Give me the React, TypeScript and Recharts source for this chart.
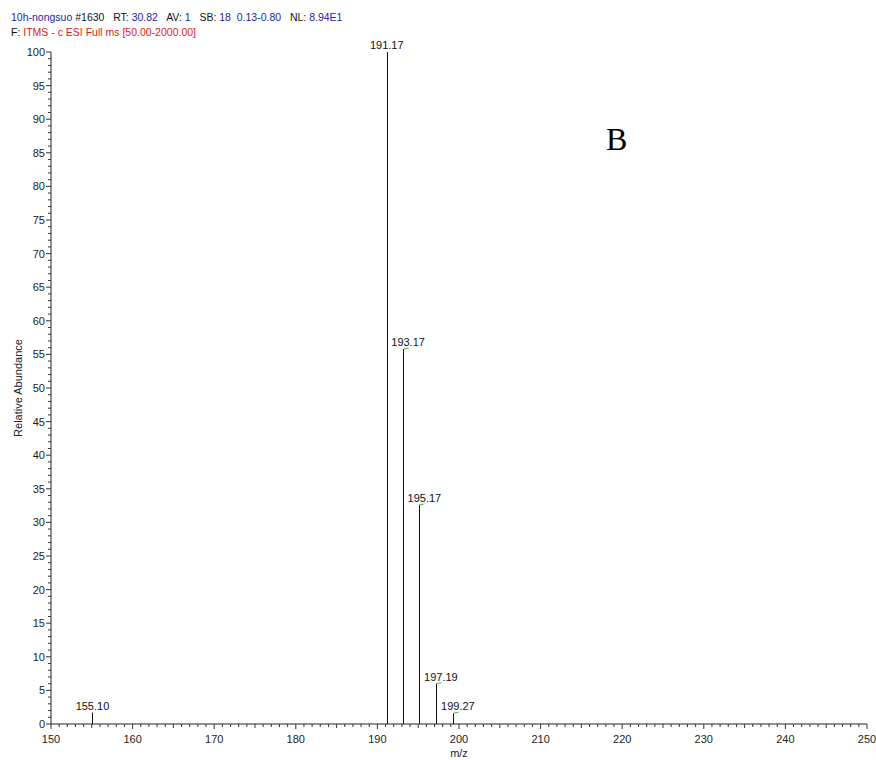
import { BarChart, Bar, XAxis, YAxis, LabelList } from 'recharts';

const mzValues = [155.1, 191.17, 193.17, 195.17, 197.19, 199.27];
const abundance = [1.7, 100, 55.8, 32.6, 6.0, 1.6];
const peakLabels = ['155.10', '191.17', '193.17', '195.17', '197.19', '199.27'];
const greenMark = [false, false, true, true, true, true];

const xTicks = Array.from({ length: 101 }, (_, i) => 150 + i);
const yTicks = Array.from({ length: 101 }, (_, i) => i);

const data = mzValues.map((mz, i) => ({
    mz,
    value: abundance[i],
    label: peakLabels[i],
    mark: greenMark[i],
}));

const FONT = '"Liberation Sans", Arial, sans-serif';
const BLUE = '#2323a8';
const RED = '#e0201c';

const XTick = ({ x, y, payload }: any) => {
    const v = payload.value;
    const major = v % 10 === 0;
    const mid = v % 5 === 0;
    const len = major ? 5 : mid ? 4 : 3;
    return (
        <g>
            <line x1={x} x2={x} y1={y} y2={y + len} stroke="#333" strokeWidth={1} />
            {major && (
                <text x={x} y={y + 19} textAnchor="middle" fontSize={11} fontFamily={FONT} fill="#222">
                    {v}
                </text>
            )}
        </g>
    );
};

const YTick = ({ x, y, payload }: any) => {
    const v = payload.value;
    const major = v % 5 === 0;
    const len = major ? 5 : 3;
    return (
        <g>
            <line x1={x - len} x2={x} y1={y} y2={y} stroke="#333" strokeWidth={1} />
            {major && (
                <text x={x - 6} y={y + 4} textAnchor="end" fontSize={11} fontFamily={FONT} fill="#222">
                    {v}
                </text>
            )}
        </g>
    );
};

const Stick = (props: any) => {
    const { x, y, width, height, payload } = props;
    const cx = Math.round(x + width / 2) + 0.5;
    return (
        <g>
            <line x1={cx} x2={cx} y1={y} y2={y + height} stroke="#111" strokeWidth={1} />
            {payload && payload.mark && (
                <line x1={cx} x2={cx + 5} y1={y} y2={y - 1} stroke="#4caf50" strokeWidth={1} />
            )}
        </g>
    );
};

const PeakLabel = (props: any) => {
    const { x, y, width, value, index } = props;
    const shift = data[index] && data[index].mark ? 5 : 0;
    return (
        <text x={x + width / 2 + shift} y={y - 3} textAnchor="middle" fontSize={11} fontFamily={FONT} fill="#111">
            {value}
        </text>
    );
};

export default function App() {
    return (
        <div style={{ position: 'absolute', left: 0, top: 0, width: 876, height: 760, background: '#fff', fontFamily: FONT }}>
            <div style={{ position: 'absolute', left: 11, top: 10, fontSize: 10.5, lineHeight: '15px', whiteSpace: 'pre', color: '#111' }}>
                <div>
                    <span style={{ color: BLUE }}>10h-nongsuo</span> #1630   RT: <span style={{ color: BLUE }}>30.82</span>   AV: <span style={{ color: BLUE }}>1</span>   SB: <span style={{ color: BLUE }}>18  0.13-0.80</span>   NL: <span style={{ color: BLUE }}>8.94E1</span>
                </div>
                <div>
                    F: <span style={{ color: RED }}>ITMS - c ESI Full ms [50.00-2000.00]</span>
                </div>
            </div>
            <div style={{ position: 'absolute', left: 606, top: 121, fontSize: 32, fontFamily: '"Liberation Serif", "Times New Roman", serif', color: '#000' }}>
                B
            </div>
            <div style={{ position: 'absolute', left: 0, top: 0 }}>
                <BarChart width={876} height={760} data={data} margin={{ top: 52, right: 9, bottom: 0, left: 0 }}>
                    <XAxis
                        dataKey="mz"
                        type="number"
                        domain={[150, 250]}
                        ticks={xTicks}
                        interval={0}
                        tick={<XTick />}
                        tickLine={false}
                        tickSize={0}
                        tickMargin={0}
                        height={36}
                        stroke="#222"
                        allowDataOverflow
                        label={{ value: 'm/z', position: 'insideBottom', offset: 3, fontSize: 11, fill: '#222', fontFamily: FONT }}
                    />
                    <YAxis
                        type="number"
                        domain={[0, 100]}
                        ticks={yTicks}
                        interval={0}
                        tick={<YTick />}
                        tickLine={false}
                        tickSize={0}
                        tickMargin={0}
                        width={51}
                        stroke="#222"
                        label={{ value: 'Relative Abundance', angle: -90, position: 'insideLeft', offset: 18, fontSize: 11, fill: '#222', fontFamily: FONT, style: { textAnchor: 'middle' } }}
                    />
                    <Bar dataKey="value" barSize={2} shape={<Stick />} isAnimationActive={false}>
                        <LabelList dataKey="label" content={<PeakLabel />} />
                    </Bar>
                </BarChart>
            </div>
        </div>
    );
}
